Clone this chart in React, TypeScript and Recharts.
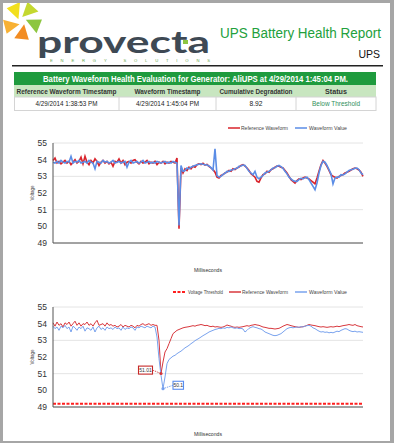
import React from 'react';
import { LineChart, Line, XAxis, YAxis, CartesianGrid, Legend, ReferenceLine } from 'recharts';

const FONT = '"Liberation Sans", Arial, Helvetica, sans-serif';

// report texts
const reportTitle = 'UPS Battery Health Report';
const reportSubtitle = 'UPS';
const evaluationTitle = 'Battery Waveform Health Evaluation for Generator: AliUPS at 4/29/2014 1:45:04 PM.';
const summaryHeaders = ['Reference Waveform Timestamp', 'Waveform Timestamp', 'Cumulative Degradation', 'Status'];
const summaryValues = ['4/29/2014 1:38:53 PM', '4/29/2014 1:45:04 PM', '8.92', 'Below Threshold'];

const voltageTicks = [49, 50, 51, 52, 53, 54, 55];
const voltageThreshold = 49.2;

// top chart: whole capture
const fullReference = [
  53.95, 54.1, 53.8, 53.9, 53.75, 53.85, 53.95, 53.8, 53.9, 53.7,
  53.85, 54.0, 53.8, 53.9, 54.15, 53.75, 54.2, 53.85, 53.7, 53.95,
  53.8, 54.05, 53.9, 53.65, 53.85, 53.95, 53.8, 53.9, 53.75, 53.85,
  53.6, 53.9, 53.85, 54.05, 53.8, 53.95, 53.7, 53.85, 53.9, 53.8,
  53.95, 54.0, 53.85, 53.75, 53.9, 53.8, 53.85, 53.95, 53.75, 53.85,
  53.8, 53.9, 53.7, 53.85, 53.8, 53.9, 53.75, 53.85, 53.8, 53.9,
  53.85, 53.8, 54.1, 49.85,
  53.5, 53.2, 53.45, 53.35, 53.55, 53.45, 53.6, 53.55, 53.7, 53.75,
  53.7, 53.78, 53.68, 53.72, 53.6, 53.5, 53.4, 53.25, 52.95, 52.9,
  53.05, 53.1, 53.2, 53.25, 53.35, 53.3, 53.45, 53.4, 53.5, 53.55,
  53.65, 53.7, 53.62, 53.5, 53.35, 53.15, 53.05, 52.95, 52.7, 52.65,
  52.9, 53.1, 53.15, 53.3, 53.25, 53.4, 53.45, 53.55, 53.62, 53.6,
  53.55, 53.5, 53.35, 53.2, 53.0, 52.8, 52.7, 52.6, 52.75, 52.85,
  52.8, 52.9, 52.95, 52.9, 52.85, 52.75, 52.65, 52.55, 52.9, 53.3,
  53.7, 53.95, 53.8, 53.6, 53.35, 53.1, 53.0, 52.95, 52.9, 53.0,
  53.05, 53.1, 53.2, 53.25, 53.3, 53.38, 53.45, 53.5, 53.45, 53.38,
  53.25, 53.0,
];
const fullWaveform = [
  53.85, 53.8, 53.9, 53.8, 53.95, 53.85, 53.8, 53.9, 53.85, 54.2,
  53.8, 53.9, 53.85, 53.95, 53.8, 53.85, 53.9, 53.8, 53.95, 53.85,
  53.8, 53.45, 53.9, 53.85, 53.8, 53.95, 53.85, 53.9, 53.8, 53.85,
  53.95, 53.8, 53.85, 53.9, 53.8, 53.85, 53.9, 53.55, 53.85, 53.95,
  53.8, 53.85, 53.9, 53.8, 53.85, 53.95, 53.8, 53.85, 53.9, 53.8,
  53.85, 53.8, 53.9, 53.85, 53.8, 53.85, 53.9, 53.8, 53.85, 53.8,
  53.9, 53.85, 53.8, 50.05,
  53.65, 53.3, 53.35, 53.5, 53.45, 53.55, 53.6, 53.65, 53.7, 53.72,
  53.75, 53.72, 53.7, 53.68, 53.62, 53.52, 53.38, 54.65, 53.05, 52.95,
  53.0, 53.12, 53.18, 53.3, 53.3, 53.38, 53.4, 53.45, 53.48, 53.6,
  53.62, 53.68, 53.65, 53.48, 53.3, 53.2, 53.1, 53.3, 52.95, 52.85,
  52.95, 53.05, 53.2, 53.25, 53.3, 53.38, 53.5, 53.52, 53.6, 53.65,
  53.58, 53.48, 53.3, 53.15, 52.95, 52.85, 52.75, 52.7, 52.7, 52.8,
  52.88, 52.85, 52.92, 52.95, 52.8, 52.6, 52.4, 52.2, 52.6, 53.2,
  53.65, 53.9, 53.85, 53.65, 53.4, 53.15, 52.55, 52.9, 52.95, 52.95,
  53.1, 53.08, 53.15, 53.25, 53.35, 53.4, 53.42, 53.48, 53.5, 53.4,
  53.2, 53.1,
];

// bottom chart: discharge dip
const dipReference = [
  54.05, 53.85, 54.1, 53.9, 54.0, 53.8, 54.05, 53.95, 54.1, 53.85,
  54.0, 54.15, 53.9, 54.05, 53.85, 54.0, 53.95, 54.1, 53.9, 54.0,
  53.85, 54.05, 54.2, 53.9, 53.95, 54.0, 53.85, 54.05, 53.9, 53.95,
  53.85, 53.9, 53.8, 53.85, 53.95, 53.8, 53.9, 53.85, 53.8, 53.9,
  53.85, 53.75, 53.9, 53.85, 53.95, 54.0, 53.9, 53.95, 54.0, 53.9,
  53.95, 53.9,
  53.9, 53.0, 51.01, 51.7, 52.3, 52.5, 52.8, 53.1, 53.4, 53.5,
  53.6, 53.65, 53.7, 53.75, 53.78, 53.8, 53.82, 53.85, 53.88, 53.85,
  53.9, 53.92, 53.95, 53.92, 53.88, 53.9, 53.85, 53.82, 53.85, 53.8,
  53.82, 53.8, 53.78, 53.8, 53.85, 53.92, 53.88, 53.85, 53.8, 53.78,
  53.8, 53.78, 53.8, 53.82, 53.85, 53.88, 53.85, 53.9, 53.92, 53.95,
  53.92, 53.9, 53.85, 53.8, 53.78, 53.75, 53.72, 53.72, 53.7, 53.68,
  53.7, 53.72, 53.78, 53.85, 53.9, 53.95, 53.92, 53.88, 53.85, 53.82,
  53.8, 53.78, 53.8, 53.82, 53.85, 53.9, 53.95, 53.92, 53.9, 53.88,
  53.85, 53.82, 53.8, 53.82, 53.8, 53.78, 53.8, 53.82, 53.8, 53.82,
  53.85, 53.82, 53.85, 53.88, 53.9, 53.92, 53.95, 53.92, 53.9, 53.95,
  53.88, 53.85, 53.82, 53.8,
];
const dipWaveform = [
  53.85, 53.7, 53.8, 53.6, 53.85, 53.75, 53.9, 53.7, 53.8, 53.5,
  53.85, 53.75, 53.6, 53.8, 53.7, 53.85, 53.55, 53.75, 53.7, 53.6,
  53.8, 53.5, 53.75, 53.85, 53.65, 53.75, 53.6, 53.8, 53.7, 53.75,
  53.65, 53.8, 53.7, 53.75, 53.6, 53.8, 53.65, 53.75, 53.7, 53.8,
  53.75, 53.6, 53.8, 53.75, 53.85, 53.8, 53.75, 53.85, 53.8, 53.75,
  53.85, 53.8,
  53.2, 51.9, 50.9, 50.1, 50.8, 51.6, 51.85, 51.95, 52.05, 52.1,
  52.2, 52.28, 52.35, 52.45, 52.55, 52.62, 52.7, 52.8, 52.88, 52.98,
  53.05, 53.12, 53.2, 53.28, 53.35, 53.42, 53.5, 53.55, 53.6, 53.65,
  53.68, 53.72, 53.7, 53.75, 53.72, 53.78, 53.75, 53.8, 53.75, 53.72,
  53.75, 53.7, 53.72, 53.68, 53.5, 53.6, 53.72, 53.78, 53.82, 53.78,
  53.75, 53.7, 53.68, 53.6, 53.5, 53.45, 53.4, 53.35, 53.3, 53.28,
  53.3, 53.35, 53.4, 53.5, 53.6, 53.7, 53.75, 53.78, 53.75, 53.78,
  53.8, 53.78, 53.82, 53.8, 53.85, 53.88, 53.9, 53.85, 53.75, 53.7,
  53.62, 53.55, 53.5, 53.52, 53.48, 53.5, 53.45, 53.48, 53.45, 53.5,
  53.55, 53.52, 53.6, 53.65, 53.7, 53.68, 53.6, 53.55, 53.52, 53.55,
  53.5, 53.52, 53.5, 53.48,
];

type Row = { ms: number; reference: number; waveform: number };
const toRows = (ref: number[], val: number[]): Row[] =>
  ref.map((v, i) => ({ ms: i, reference: v, waveform: val[i] }));

const fullData = toRows(fullReference, fullWaveform);
const dipData = toRows(dipReference, dipWaveform);

const RED1 = '#d9232b';
const BLUE1 = '#5b8de6';
const RED2 = '#d8383e';
const BLUE2 = '#7aa3ee';
const THRESH = '#ff1f1f';

const LEGEND_LEFT = 165;

type LegendItem = { name: string; color: string; dashed?: boolean; lineX: number; textX: number; textLen: number };

const fullLegend: LegendItem[] = [
  { name: 'Reference Waveform', color: RED1, lineX: 228, textX: 241, textLen: 47 },
  { name: 'Waveform Value', color: BLUE1, lineX: 295, textX: 309, textLen: 38 },
];
const dipLegend: LegendItem[] = [
  { name: 'Voltage Threshold', color: THRESH, dashed: true, lineX: 173, textX: 188, textLen: 35 },
  { name: 'Reference Waveform', color: RED2, lineX: 229, textX: 242, textLen: 46 },
  { name: 'Waveform Value', color: BLUE2, lineX: 295, textX: 309, textLen: 38 },
];

const LegendRow = ({ items }: { items: LegendItem[] }) => (
  <svg width={190} height={12} style={{ display: 'block' }}>
    {items.map((it) => (
      <g key={it.name}>
        <line
          x1={it.lineX - LEGEND_LEFT}
          x2={it.lineX - LEGEND_LEFT + 12}
          y1={6}
          y2={6}
          stroke={it.color}
          strokeWidth={it.dashed ? 2 : 1.5}
          strokeDasharray={it.dashed ? '3 1.5' : undefined}
        />
        <text
          x={it.textX - LEGEND_LEFT}
          y={6}
          dominantBaseline="central"
          fontSize={5}
          fill="#444"
          textLength={it.textLen}
          lengthAdjust="spacingAndGlyphs"
        >
          {it.name}
        </text>
      </g>
    ))}
  </svg>
);

const voltageLabel = (props: any) => {
  const vb = props.viewBox || { y: 0, height: 0 };
  const cy = vb.y + vb.height / 2;
  return (
    <text x={32} y={cy} transform={`rotate(-90 32 ${cy})`} textAnchor="middle" dominantBaseline="central"
      fontSize={5} fill="#333" textLength={15} lengthAdjust="spacingAndGlyphs">
      Voltage
    </text>
  );
};

const msLabel = (props: any) => {
  const vb = props.viewBox || { x: 0, y: 0, width: 0 };
  return (
    <text x={vb.x + vb.width / 2} y={vb.y + 26.5} textAnchor="middle" dominantBaseline="central"
      fontSize={5.2} fill="#333" textLength={28} lengthAdjust="spacingAndGlyphs">
      Milliseconds
    </text>
  );
};

const minIndex = (arr: number[]) => arr.indexOf(Math.min(...arr));

// boxed value label at the lowest point of a series
const makeMinLabel = (target: number, color: string, side: 'left' | 'right') => (props: any) => {
  if (props.index !== target) return null;
  const { x, y, value } = props;
  const text = String(value);
  const w = text.length > 4 ? 14 : 10.5;
  const bx = side === 'left' ? x - 8.5 - w : x + 10;
  const by = y - 7.4;
  const lx = side === 'left' ? bx + w : bx;
  return (
    <g>
      <line x1={lx} y1={by + 4} x2={x} y2={y} stroke={color} strokeDasharray="1.5 1" strokeWidth={0.8} />
      <rect x={bx} y={by} width={w} height={8} fill="#fff" stroke={color} strokeWidth={1.1} />
      <text x={bx + w / 2} y={by + 4} textAnchor="middle" dominantBaseline="central" fontSize={5} fill="#333">
        {text}
      </text>
    </g>
  );
};

const makeMinDot = (target: number, color: string) => (props: any) =>
  props.index === target ? (
    <circle key={`d${props.index}`} cx={props.cx} cy={props.cy} r={1.6} fill={color} />
  ) : (
    <g key={`d${props.index}`} />
  );

interface WaveChartProps {
  data: Row[];
  height: number;
  xAxisHeight: number;
  legendItems: LegendItem[];
  refColor: string;
  valColor: string;
  strokeWidth: number;
  showThreshold?: boolean;
  markMinimum?: boolean;
}

function WaveChart({ data, height, xAxisHeight, legendItems, refColor, valColor, strokeWidth, showThreshold, markMinimum }: WaveChartProps) {
  const refMin = markMinimum ? minIndex(data.map((d) => d.reference)) : -1;
  const valMin = markMinimum ? minIndex(data.map((d) => d.waveform)) : -1;
  return (
    <LineChart width={394} height={height} data={data} margin={{ top: 15, right: 31, bottom: 0, left: 5 }}>
      <CartesianGrid vertical={false} stroke="#e4e4e4" />
      <XAxis
        dataKey="ms"
        interval={0}
        tick={false}
        tickSize={2}
        tickLine={{ stroke: '#8a8a8a' }}
        axisLine={{ stroke: '#555' }}
        height={xAxisHeight}
        label={msLabel}
      />
      <YAxis
        domain={[49, 55]}
        ticks={voltageTicks}
        width={48}
        tickLine={false}
        tickSize={4}
        tickMargin={2}
        axisLine={{ stroke: '#555' }}
        tick={{ fontSize: 8.5, fill: '#333' }}
        label={voltageLabel}
      />
      <Legend
        verticalAlign="top"
        align="right"
        content={() => <LegendRow items={legendItems} />}
        wrapperStyle={{ top: 6, left: LEGEND_LEFT, width: 190, height: 12 }}
      />
      {showThreshold && (
        <ReferenceLine y={voltageThreshold} stroke={THRESH} strokeWidth={2} strokeDasharray="3 1.5" />
      )}
      <Line
        type="linear"
        dataKey="reference"
        name="Reference Waveform"
        stroke={refColor}
        strokeWidth={strokeWidth}
        dot={markMinimum ? makeMinDot(refMin, refColor) : false}
        activeDot={false}
        label={markMinimum ? makeMinLabel(refMin, '#c62828', 'left') : undefined}
        isAnimationActive={false}
      />
      <Line
        type="linear"
        dataKey="waveform"
        name="Waveform Value"
        stroke={valColor}
        strokeWidth={strokeWidth}
        dot={markMinimum ? makeMinDot(valMin, valColor) : false}
        activeDot={false}
        label={markMinimum ? makeMinLabel(valMin, '#5b8def', 'right') : undefined}
        isAnimationActive={false}
      />
    </LineChart>
  );
}

const logoBlades = [
  { angle: -118, color: '#f2df1d' },
  { angle: -52, color: '#c4d82f' },
  { angle: 18, color: '#8dc641' },
  { angle: 92, color: '#f28c22' },
  { angle: 162, color: '#f8b133' },
];

const bladePoints = (deg: number) => {
  const p = (r: number, a: number) => {
    const t = ((deg + a) * Math.PI) / 180;
    return `${22 + r * Math.cos(t)},${21 + r * Math.sin(t)}`;
  };
  return [p(4, -35), p(20, -22), p(19, 22)].join(' ');
};

const tableCols = [14, 119, 216, 296, 376];

function ReportHeader() {
  const centers = tableCols.slice(0, -1).map((c, i) => (c + tableCols[i + 1]) / 2);
  const headLens = [100, 66, 73, 22];
  const valueLens = [62, 63, 13, 48];
  return (
    <svg width={394} height={114} style={{ position: 'absolute', left: 0, top: 0 }}>
      {logoBlades.map((b) => (
        <polygon key={b.angle} points={bladePoints(b.angle)} fill={b.color} />
      ))}
      <text x={37} y={53} fontFamily="Lato, 'Open Sans', sans-serif" fontWeight={700} fontSize={30} fill="#3e4954"
        textLength={173} lengthAdjust="spacingAndGlyphs">
        provecta
      </text>
      <rect x={183} y={40} width={5} height={4} fill="#8dc641" />
      <text x={50} y={62} fontSize={4.2} fill="#6aa84f" textLength={160} lengthAdjust="spacing">
        ENERGY SOLUTIONS
      </text>
      <text x={220} y={37.5} fontSize={14} fill="#22a03c" textLength={161} lengthAdjust="spacingAndGlyphs">
        {reportTitle}
      </text>
      <text x={380} y={57.5} fontSize={10.5} fill="#111" textAnchor="end">
        {reportSubtitle}
      </text>
      <line x1={12} y1={65.8} x2={383} y2={65.8} stroke="#222" strokeWidth={1.6} />

      <rect x={14} y={72} width={362} height={13} fill="#1f9b3e" />
      <text x={195.5} y={78.7} textAnchor="middle" dominantBaseline="central" fontSize={8.5} fontWeight={700}
        fill="#fff" textLength={305} lengthAdjust="spacingAndGlyphs">
        {evaluationTitle}
      </text>
      <rect x={14} y={85} width={362} height={12} fill="#c8e6c0" />
      {summaryHeaders.map((h, i) => (
        <text key={h} x={centers[i]} y={91.2} textAnchor="middle" dominantBaseline="central" fontSize={7}
          fontWeight={700} fill="#333" textLength={headLens[i]} lengthAdjust="spacingAndGlyphs">
          {h}
        </text>
      ))}
      <rect x={14.5} y={97} width={361.5} height={13.5} fill="#fff" stroke="#d4d4d4" />
      {tableCols.slice(1, -1).map((c) => (
        <line key={c} x1={c} x2={c} y1={97} y2={110.5} stroke="#d4d4d4" />
      ))}
      {summaryValues.map((v, i) => (
        <text key={v} x={centers[i]} y={103.8} textAnchor="middle" dominantBaseline="central" fontSize={7}
          fill={i === 3 ? '#2f8f5b' : '#222'} textLength={valueLens[i]} lengthAdjust="spacingAndGlyphs">
          {v}
        </text>
      ))}
    </svg>
  );
}

export default function App() {
  return (
    <div style={{ position: 'relative', width: 394, height: 443, background: '#fff', overflow: 'hidden', fontFamily: FONT }}>
      <style>{'body{margin:0}'}</style>
      <ReportHeader />
      <div style={{ position: 'absolute', left: 0, top: 116 }}>
        <WaveChart data={fullData} height={164} xAxisHeight={37} legendItems={fullLegend}
          refColor={RED1} valColor={BLUE1} strokeWidth={1.6} />
      </div>
      <div style={{ position: 'absolute', left: 0, top: 280 }}>
        <WaveChart data={dipData} height={163} xAxisHeight={36} legendItems={dipLegend}
          refColor={RED2} valColor={BLUE2} strokeWidth={1} showThreshold markMinimum />
      </div>
      <div
        style={{
          position: 'absolute', left: 0, top: 0, width: 394, height: 443, boxSizing: 'border-box',
          borderStyle: 'solid', borderColor: '#a6a6a6', borderWidth: '3px 4px 2px 3px', pointerEvents: 'none',
        }}
      />
    </div>
  );
}
